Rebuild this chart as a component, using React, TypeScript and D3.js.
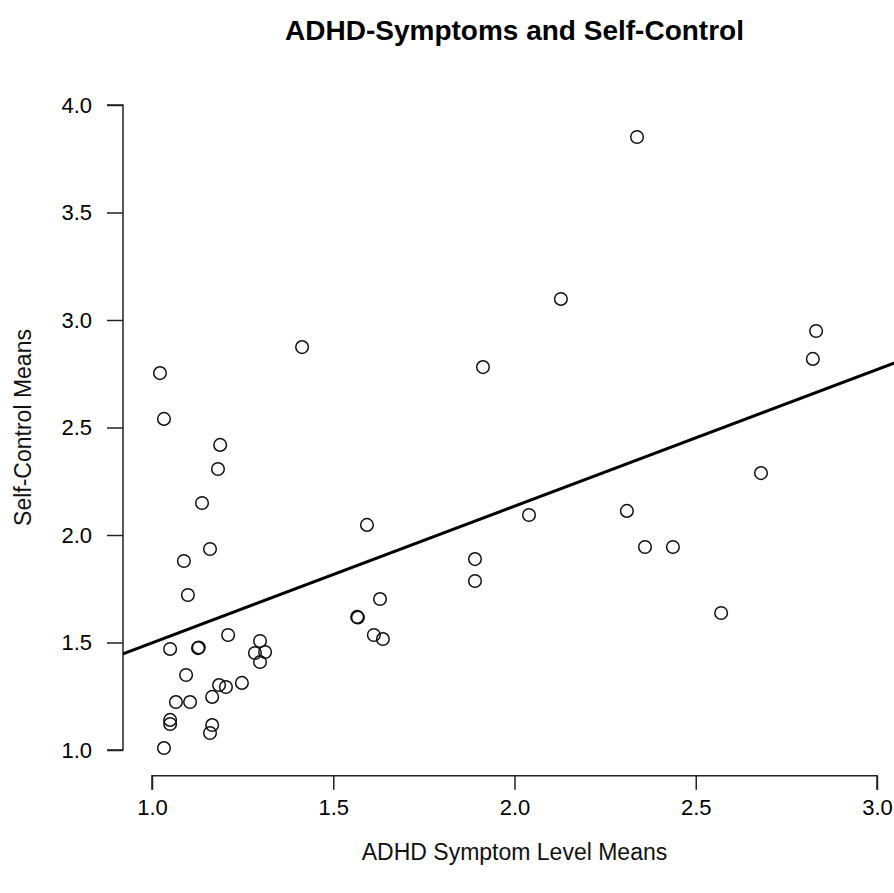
import React from "react"
import * as d3 from "d3"

// values
const adhdMeans = [
  1.414, 1.022, 1.033, 1.188, 1.182, 1.138, 1.16, 1.088, 1.099, 1.21,
  1.05, 1.127, 1.129, 1.298, 1.284, 1.312, 1.298, 1.094, 1.185, 1.204,
  1.248, 1.166, 1.066, 1.105, 1.05, 1.05, 1.166, 1.16, 1.033,
  1.593, 2.04, 1.891, 1.891, 1.629, 1.566, 1.568, 1.612, 1.637, 1.913,
  2.338, 2.128, 2.832, 2.823, 2.68, 2.31, 2.36, 2.437, 2.57,
]
const selfControlMeans = [
  2.874, 2.753, 2.54, 2.419, 2.307, 2.149, 1.935, 1.879, 1.721, 1.535,
  1.47, 1.474, 1.477, 1.507, 1.451, 1.456, 1.409, 1.349, 1.302, 1.293,
  1.312, 1.247, 1.223, 1.223, 1.14, 1.121, 1.116, 1.079, 1.009,
  2.047, 2.093, 1.888, 1.786, 1.702, 1.619, 1.616, 1.535, 1.516, 2.781,
  3.851, 3.098, 2.949, 2.819, 2.288, 2.112, 1.944, 1.944, 1.637,
]
const xTicks = [1.0, 1.5, 2.0, 2.5, 3.0]
const yTicks = [1.0, 1.5, 2.0, 2.5, 3.0, 3.5, 4.0]
// fitted line (intercept, slope)
const fitLine = [0.862, 0.636]

const title = "ADHD-Symptoms and Self-Control"
const xLabel = "ADHD Symptom Level Means"
const yLabel = "Self-Control Means"

export default function App() {
  const ref = React.useRef<SVGSVGElement>(null)

  React.useEffect(() => {
    const width = 894
    const height = 893
    const font = "'Liberation Sans', Arial, sans-serif"

    const x = d3.scaleLinear().domain([0.92, 3.08]).range([123, 906])
    const y = d3.scaleLinear().domain([0.88, 4.12]).range([775.8, 79.2])

    const svg = d3.select(ref.current)
    svg.selectAll("*").remove()
    svg.attr("width", width).attr("height", height)

    svg.append("rect").attr("width", width).attr("height", height).attr("fill", "white")

    svg.append("clipPath").attr("id", "plot-clip")
      .append("rect")
      .attr("x", x.range()[0]).attr("y", y.range()[1])
      .attr("width", x.range()[1] - x.range()[0])
      .attr("height", y.range()[0] - y.range()[1])

    // title
    svg.append("text")
      .attr("x", x(2)).attr("y", 40)
      .attr("text-anchor", "middle")
      .attr("font-family", font).attr("font-weight", "bold").attr("font-size", 28)
      .attr("fill", "#000")
      .text(title)

    // x axis
    const xAxis = svg.append("g")
      .attr("transform", `translate(0,${y.range()[0]})`)
      .call(d3.axisBottom(x).tickValues(xTicks).tickSize(14).tickPadding(10)
        .tickFormat((d) => (d as number).toFixed(1)))
    xAxis.select(".domain")
      .attr("d", `M${x(xTicks[0])},14V0H${x(xTicks[xTicks.length - 1])}V14`)
    xAxis.selectAll("path, line").attr("stroke", "#222").attr("stroke-width", 1.5)
    xAxis.selectAll("text")
      .attr("font-family", font).attr("font-size", 22).attr("fill", "#000")

    // y axis
    const yAxis = svg.append("g")
      .attr("transform", `translate(${x.range()[0]},0)`)
      .call(d3.axisLeft(y).tickValues(yTicks).tickSize(16).tickPadding(15)
        .tickFormat((d) => (d as number).toFixed(1)))
    yAxis.select(".domain")
      .attr("d", `M-16,${y(yTicks[0])}H0V${y(yTicks[yTicks.length - 1])}H-16`)
    yAxis.selectAll("path, line").attr("stroke", "#222").attr("stroke-width", 1.5)
    yAxis.selectAll("text")
      .attr("font-family", font).attr("font-size", 22).attr("fill", "#000")

    // axis titles
    svg.append("text")
      .attr("x", x(2)).attr("y", 860)
      .attr("text-anchor", "middle")
      .attr("font-family", font).attr("font-size", 23).attr("fill", "#111")
      .text(xLabel)

    svg.append("text")
      .attr("transform", `translate(31,${y(2.5)}) rotate(-90)`)
      .attr("text-anchor", "middle")
      .attr("font-family", font).attr("font-size", 23).attr("fill", "#111")
      .text(yLabel)

    const plot = svg.append("g").attr("clip-path", "url(#plot-clip)")

    const pts = adhdMeans.map((a, i) => ({ a, s: selfControlMeans[i] }))
    plot.selectAll("circle")
      .data(pts)
      .enter()
      .append("circle")
      .attr("cx", (d) => x(d.a))
      .attr("cy", (d) => y(d.s))
      .attr("r", 6.3)
      .attr("fill", "none")
      .attr("stroke", "#111")
      .attr("stroke-width", 1.5)

    const line = d3.line<number>()
      .x((d) => x(d))
      .y((d) => y(fitLine[0] + fitLine[1] * d))
    plot.append("path")
      .datum(x.domain())
      .attr("fill", "none")
      .attr("stroke", "#000")
      .attr("stroke-width", 3)
      .attr("d", line)
  }, [])

  return <svg ref={ref} style={{ position: "absolute", left: 0, top: 0 }}></svg>
}
